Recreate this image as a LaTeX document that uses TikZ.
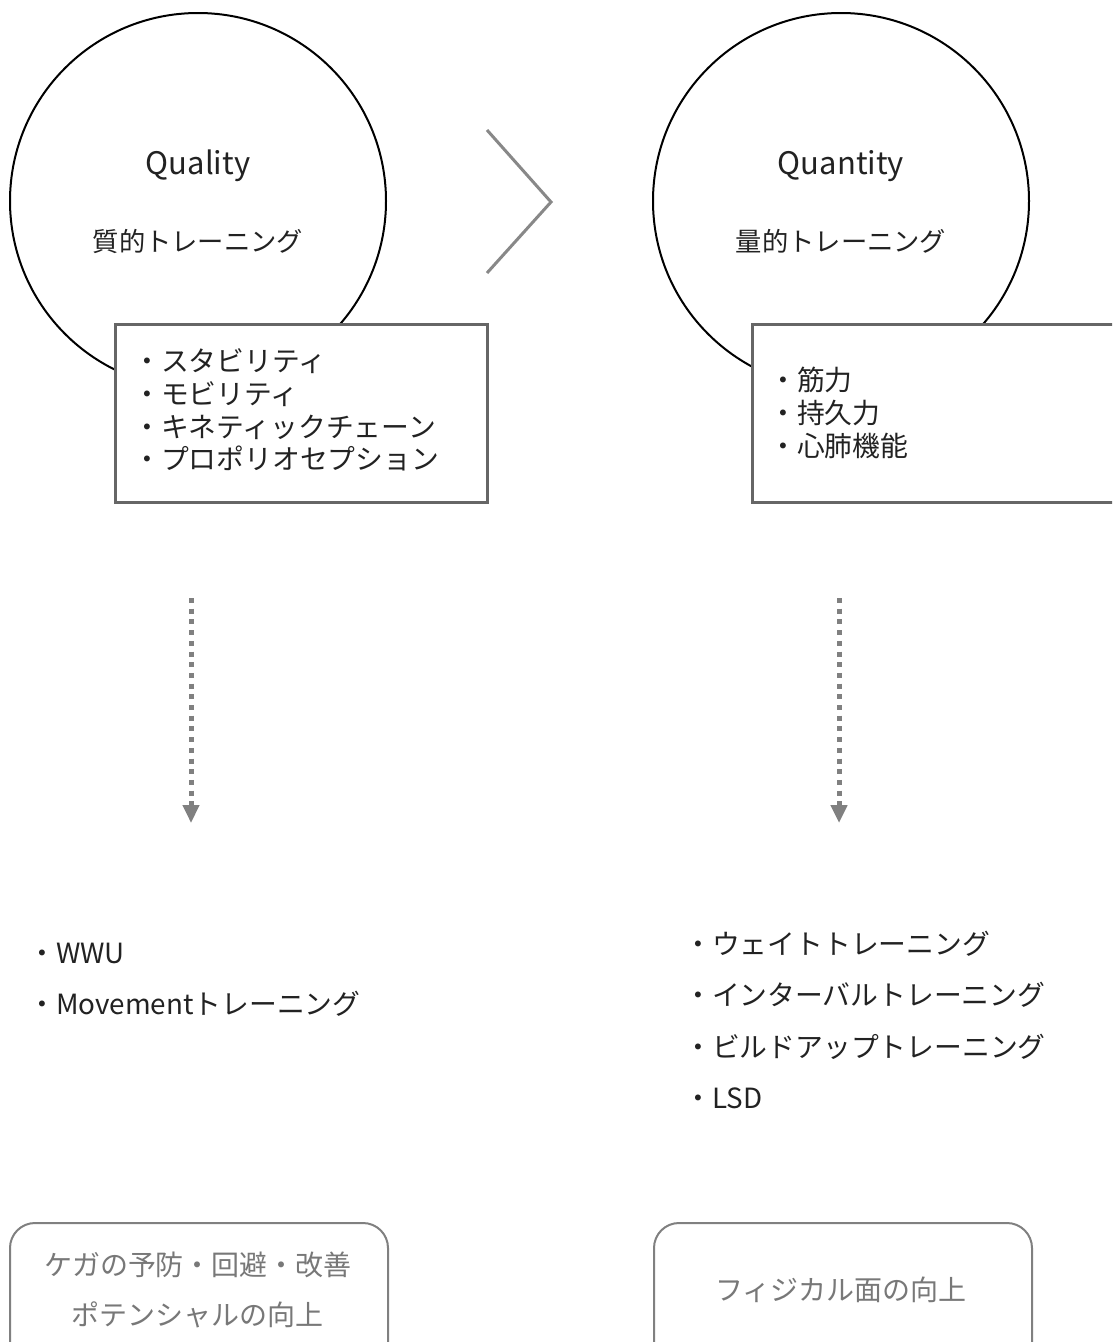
\documentclass[tikz,border=0pt]{standalone}
\usepackage{fontspec}
\setmainfont{Noto Sans CJK JP}
\usetikzlibrary{arrows.meta}
\definecolor{boxgray}{HTML}{666666}
\definecolor{chevgray}{HTML}{888888}
\definecolor{arrgray}{HTML}{808080}
\definecolor{txtgray}{HTML}{787878}
\definecolor{txtdark}{HTML}{222222}
\tikzset{
  bigcircle/.style={circle, draw=black, line width=2pt, minimum size=376pt, inner sep=0pt},
  titletext/.style={font=\fontsize{31}{36}\selectfont, text=txtdark, inner sep=0pt},
  subtext/.style={font=\fontsize{26.3}{30}\selectfont, text=txtdark, inner sep=0pt},
  listbox/.style={draw=boxgray, line width=2.5pt, fill=white, anchor=north west, inner sep=0pt},
  listtext/.style={font=\fontsize{27.8}{32.7}\selectfont, text=txtdark, align=left, inner sep=0pt},
  outtext/.style={font=\fontsize{27.8}{51.3}\selectfont, text=txtdark, align=left, inner sep=0pt},
  resultbox/.style={draw=arrgray, line width=2pt, rounded corners=25pt, fill=white, anchor=north west, minimum width=378pt, minimum height=200pt, inner sep=0pt},
  resulttext/.style={font=\fontsize{28}{50}\selectfont, text=txtgray, align=center, inner sep=0pt},
  dotarrow/.style={draw=arrgray, line width=5pt, dash pattern=on 5pt off 5.7pt, -{Triangle[width=16pt,length=18pt]}},
  chevron/.style={draw=chevgray, line width=3pt}
}
\begin{document}
\begin{tikzpicture}[x=1pt,y=-1pt]
\useasboundingbox (0,0) rectangle (1112,1342);
\clip (0,0) rectangle (1112,1342);
\fill[white] (0,0) rectangle (1112,1342);

% circles
\node[bigcircle] (c1) at (198,201) {};
\node[bigcircle] (c2) at (841,201) {};
\node[titletext] (t1) at (198,166) {Quality};
\node[subtext] (s1) at (198,241) {質的トレーニング};
\node[titletext] (t2) at (841,166) {Quantity};
\node[subtext] (s2) at (841,241) {量的トレーニング};

% chevron
\coordinate (ch1) at (487,130);
\coordinate (ch2) at (551,202);
\coordinate (ch3) at (487,273);
\draw[chevron] (ch1) -- (ch2) -- (ch3);

% list boxes
\node[listbox, minimum width=372pt, minimum height=178pt] (b1) at (114,323) {};
\node[listbox, minimum width=400pt, minimum height=178pt] (b2) at (751,323) {};
\node[listtext, anchor=west] (l1) at (133,410) {・スタビリティ\\・モビリティ\\・キネティックチェーン\\・プロポリオセプション};
\node[listtext, anchor=west] (l2) at (769,413) {・筋力\\・持久力\\・心肺機能};

% dotted arrows
\coordinate (a1s) at (191,598);
\coordinate (a1e) at (191,823);
\coordinate (a2s) at (839,598);
\coordinate (a2e) at (839,823);
\draw[dotarrow] (a1s) -- (a1e);
\draw[dotarrow] (a2s) -- (a2e);

% training lists
\node[outtext, anchor=west] (o1) at (28,980) {・WWU\\・Movementトレーニング};
\node[outtext, anchor=west] (o2) at (684,1020) {・ウェイトトレーニング\\・インターバルトレーニング\\・ビルドアップトレーニング\\・LSD};

% result boxes
\node[resultbox] (r1) at (9,1222) {};
\node[resultbox] (r2) at (653,1222) {};
\node[resulttext] (rt1) at (198,1290) {ケガの予防・回避・改善\\ポテンシャルの向上};
\node[resulttext] (rt2) at (841,1290) {フィジカル面の向上};
\end{tikzpicture}
\end{document}
